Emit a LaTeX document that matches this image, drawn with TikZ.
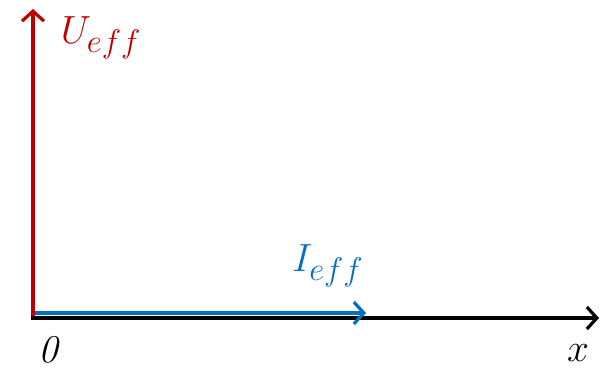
\documentclass[tikz,border=0pt]{standalone}
\usepackage{tikz}
\usetikzlibrary{arrows.meta}
\definecolor{ueffred}{RGB}{192, 0, 0}
\definecolor{ieffblue}{RGB}{0, 112, 192}

\begin{document}
\begin{tikzpicture}[x=1pt, y=-1pt,
    axis/.style={line width=3.2pt, -{Straight Barb[length=10pt, width=22pt, line width=3.2pt]}},
    lbl/.style={inner sep=0pt, font=\Huge, scale=1.58},
]
\useasboundingbox (0,0) rectangle (601,369);

\coordinate (o) at (33,318);
\coordinate (ob) at (33,313);
\coordinate (xend) at (599,318);
\coordinate (uend) at (33,9);
\coordinate (iend) at (366,313);

\draw[axis, black] ([xshift=-1.6pt]o) -- (xend);
\draw[axis, ieffblue] (ob) -- (iend);
\draw[axis, ueffred] ([yshift=1.6pt]o) -- (uend);

\node[lbl, text=ueffred] (ulabel) at (101,38) {$U_{eff}$};
\node[lbl, text=ieffblue] (ilabel) at (328,266) {$I_{eff}$};
\node[lbl] (zero) at (49,350) {\textit{0}};
\node[lbl] (xlabel) at (578,353) {$x$};

\end{tikzpicture}
\end{document}
